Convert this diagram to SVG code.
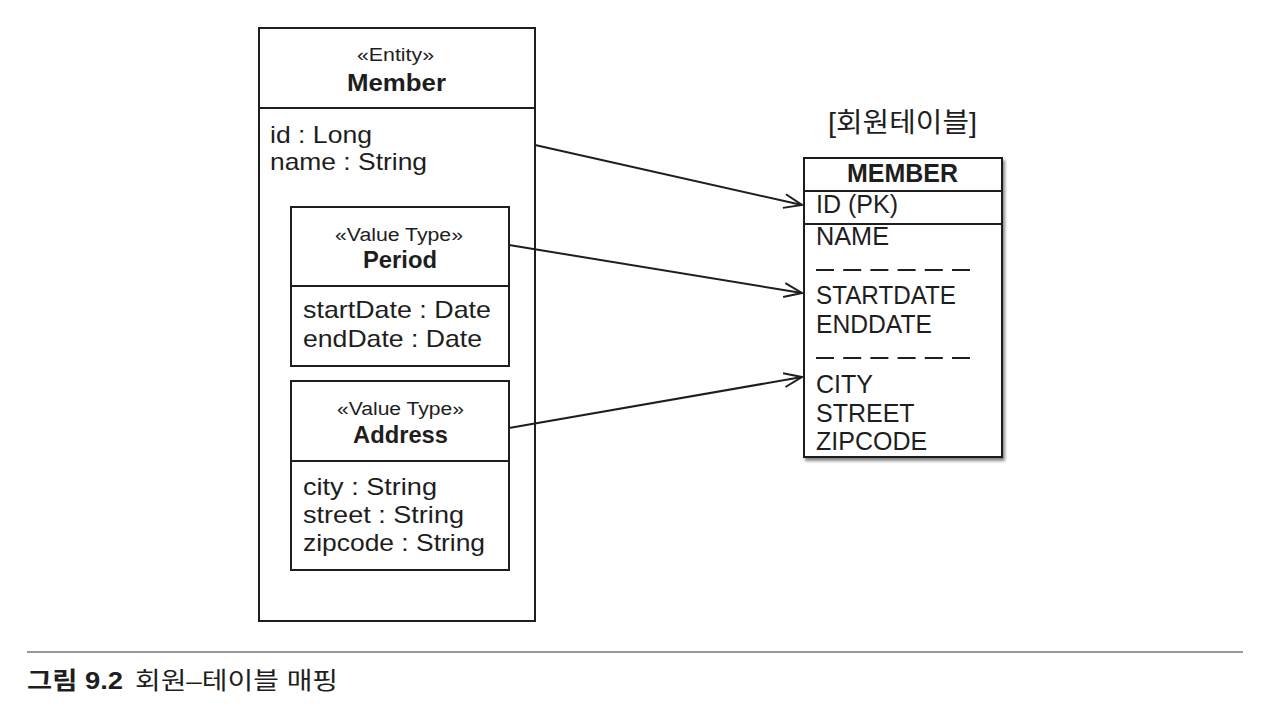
<svg xmlns="http://www.w3.org/2000/svg" width="1276" height="718" viewBox="0 0 1276 718">
<style>
text{font-family:"Liberation Sans","Noto Sans CJK KR",sans-serif;fill:#1e1e1e}
.box{fill:#fff;stroke:#1e1e1e;stroke-width:2}
.div{stroke:#1e1e1e;stroke-width:2}
.st{font-size:18px}
.nm{font-size:24px;font-weight:bold}
.at{font-size:24px}
.tb{font-size:25px}
.dash{stroke:#1e1e1e;stroke-width:2;stroke-dasharray:18,9.2}
.conn{stroke:#1e1e1e;stroke-width:2;fill:none;marker-end:url(#arr)}
</style>
<defs>
<marker id="arr" viewBox="0 0 20 20" refX="19" refY="10" markerWidth="20" markerHeight="20" markerUnits="userSpaceOnUse" orient="auto">
<path d="M1,3 L19,10 L1,17" fill="none" stroke="#1e1e1e" stroke-width="2"/>
</marker>
<filter id="sh" x="-5%" y="-5%" width="115%" height="115%">
<feDropShadow dx="2" dy="3" stdDeviation="1.5" flood-color="#555" flood-opacity="0.7"/>
</filter>
</defs>
<rect width="1276" height="718" fill="#fff"/>
<g id="member">
<rect class="box" x="259" y="28" width="276" height="593"/>
<line class="div" x1="259" y1="108" x2="535" y2="108"/>
<text class="st" x="357" y="61" textLength="77" lengthAdjust="spacingAndGlyphs">«Entity»</text>
<text class="nm" x="347" y="91" textLength="99" lengthAdjust="spacingAndGlyphs">Member</text>
<text class="at" x="270" y="143" textLength="102" lengthAdjust="spacingAndGlyphs">id : Long</text>
<text class="at" x="270" y="170" textLength="157" lengthAdjust="spacingAndGlyphs">name : String</text>
</g>
<g id="period">
<rect class="box" x="291" y="207" width="218" height="159"/>
<line class="div" x1="291" y1="286" x2="509" y2="286"/>
<text class="st" x="335" y="241" textLength="128" lengthAdjust="spacingAndGlyphs">«Value Type»</text>
<text class="nm" x="363" y="268" textLength="74" lengthAdjust="spacingAndGlyphs">Period</text>
<text class="at" x="303" y="318" textLength="188" lengthAdjust="spacingAndGlyphs">startDate : Date</text>
<text class="at" x="303" y="347" textLength="179" lengthAdjust="spacingAndGlyphs">endDate : Date</text>
</g>
<g id="address">
<rect class="box" x="291" y="381" width="218" height="189"/>
<line class="div" x1="291" y1="461" x2="509" y2="461"/>
<text class="st" x="337" y="415" textLength="127" lengthAdjust="spacingAndGlyphs">«Value Type»</text>
<text class="nm" x="353" y="443" textLength="95" lengthAdjust="spacingAndGlyphs">Address</text>
<text class="at" x="303" y="495" textLength="134" lengthAdjust="spacingAndGlyphs">city : String</text>
<text class="at" x="303" y="523" textLength="161" lengthAdjust="spacingAndGlyphs">street : String</text>
<text class="at" x="303" y="551" textLength="182" lengthAdjust="spacingAndGlyphs">zipcode : String</text>
</g>
<g id="member-table">
<text x="828" y="132" font-size="27" textLength="149" lengthAdjust="spacingAndGlyphs">[회원테이블]</text>
<rect class="box" x="804" y="158" width="198" height="299" filter="url(#sh)"/>
<line class="div" x1="804" y1="191" x2="1002" y2="191"/>
<line class="div" x1="804" y1="224" x2="1002" y2="224" stroke-width="2.5"/>
<text x="847" y="182" font-size="25" font-weight="bold" textLength="111" lengthAdjust="spacingAndGlyphs">MEMBER</text>
<text class="tb" x="816" y="213" textLength="82" lengthAdjust="spacingAndGlyphs">ID (PK)</text>
<text class="tb" x="816" y="245" textLength="73" lengthAdjust="spacingAndGlyphs">NAME</text>
<line class="dash" x1="816" y1="270" x2="970" y2="270"/>
<text class="tb" x="816" y="304" textLength="140" lengthAdjust="spacingAndGlyphs">STARTDATE</text>
<text class="tb" x="816" y="333" textLength="116" lengthAdjust="spacingAndGlyphs">ENDDATE</text>
<line class="dash" x1="816" y1="358" x2="970" y2="358"/>
<text class="tb" x="816" y="393">CITY</text>
<text class="tb" x="816" y="422">STREET</text>
<text class="tb" x="816" y="450">ZIPCODE</text>
</g>
<g id="connectors">
<line class="conn" x1="535" y1="145" x2="802" y2="205"/>
<line class="conn" x1="509" y1="245" x2="802" y2="293"/>
<line class="conn" x1="509" y1="428" x2="802" y2="377"/>
</g>
<g id="caption">
<line x1="27" y1="652" x2="1243" y2="652" stroke="#777" stroke-width="1.5"/>
<text x="27" y="689" font-size="24" font-weight="bold" textLength="96" lengthAdjust="spacingAndGlyphs">그림 9.2</text>
<text x="135" y="689" font-size="24" textLength="203" lengthAdjust="spacingAndGlyphs">회원–테이블 매핑</text>
</g>
</svg>
